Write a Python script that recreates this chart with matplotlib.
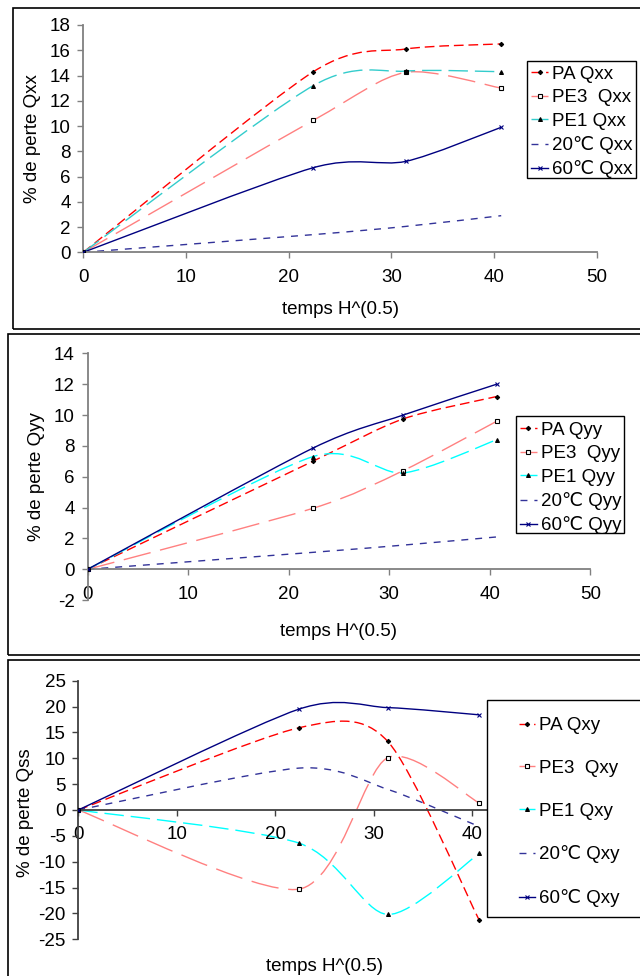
import matplotlib
matplotlib.use("Agg")
import matplotlib.pyplot as plt
from matplotlib.path import Path
from matplotlib.patches import PathPatch, Rectangle
from matplotlib.lines import Line2D

plt.rcParams['font.family'] = ['Liberation Sans', 'DejaVu Sans']
plt.rcParams['lines.scale_dashes'] = False
plt.rcParams['axes.unicode_minus'] = False

# temps H^(0.5)
t = [0, 22.4, 31.4, 40.7]

# % de perte Qxx
pa_qxx = [0, 14.3, 16.1, 16.5]
pe3_qxx = [0, 10.45, 14.25, 13.0]
pe1_qxx = [0, 13.2, 14.35, 14.3]
c20_qxx = [0, 1.4, 2.05, 2.9]
c60_qxx = [0, 6.7, 7.2, 9.9]
labels_qxx = ["PA Qxx", "PE3  Qxx", "PE1 Qxx", "20\u2103 Qxx", "60\u2103 Qxx"]

# % de perte Qyy
pa_qyy = [0, 7.0, 9.75, 11.2]
pe3_qyy = [0, 3.95, 6.4, 9.6]
pe1_qyy = [0, 7.3, 6.25, 8.4]
c20_qyy = [0, 1.1, 1.57, 2.1]
c60_qyy = [0, 7.85, 10.0, 12.0]
labels_qyy = ["PA Qyy", "PE3  Qyy", "PE1 Qyy", "20\u2103 Qyy", "60\u2103 Qyy"]

# % de perte Qss
pa_qxy = [0, 15.9, 13.3, -21.3]
pe3_qxy = [0, -15.3, 10.1, 1.35]
pe1_qxy = [0, -6.4, -20.2, -8.4]
c20_qxy = [0, 8.1, 4.0, -3.2]
c60_qxy = [0, 19.5, 19.8, 18.4]
labels_qxy = ["PA Qxy", "PE3  Qxy", "PE1 Qxy", "20\u2103 Qxy", "60\u2103 Qxy"]

W, H = 640, 976
FS = 13.5
TENSION = 1 / 7.5


def fig_rect(x0, y0, x1, y1):
    # pixel box (top-left origin) -> figure fraction rect
    return [x0 / W, 1 - y1 / H, (x1 - x0) / W, (y1 - y0) / H]


def smooth_path(x, y):
    # excel-like smoothed line: cubic bezier through the points
    pts = list(zip(x, y))
    n = len(pts)
    verts = [pts[0]]
    codes = [Path.MOVETO]
    for i in range(n - 1):
        p0 = pts[max(i - 1, 0)]
        p1 = pts[i]
        p2 = pts[i + 1]
        p3 = pts[min(i + 2, n - 1)]
        c1 = (p1[0] + (p2[0] - p0[0]) * TENSION, p1[1] + (p2[1] - p0[1]) * TENSION)
        c2 = (p2[0] - (p3[0] - p1[0]) * TENSION, p2[1] - (p3[1] - p1[1]) * TENSION)
        verts += [c1, c2, p2]
        codes += [Path.CURVE4] * 3
    return Path(verts, codes)


def styles(pe1_color):
    return [
        dict(color='#ff0000', ls=(0, (7, 3.5)), marker='D', ms=2.2, mfc='k', mec='k'),
        dict(color='#ff8080', ls=(0, (20, 7)), marker='s', ms=2.8, mfc='white', mec='k'),
        dict(color=pe1_color, ls=(0, (14, 5)), marker='^', ms=2.8, mfc='k', mec='k'),
        dict(color='#333399', ls=(0, (5, 5)), marker=None, ms=0, mfc='none', mec='none'),
        dict(color='#000080', ls='-', marker='x', ms=3.2, mfc='#000080', mec='#000080'),
    ]


def draw_panel(ax, series, pe1_color, spine_color):
    handles = []
    for y, st in zip(series, styles(pe1_color)):
        ax.add_patch(PathPatch(smooth_path(t, y), fill=False, edgecolor=st['color'],
                               lw=1.0, linestyle=st['ls'], capstyle='butt'))
        if st['marker']:
            ax.plot(t, y, ls='none', marker=st['marker'], ms=st['ms'],
                    mfc=st['mfc'], mec=st['mec'], mew=0.8, zorder=3)
        handles.append(Line2D([], [], color=st['color'], lw=1.0, ls=st['ls'],
                              marker=st['marker'], ms=st['ms'], mfc=st['mfc'],
                              mec=st['mec'], mew=0.8))
    for s in ['top', 'right']:
        ax.spines[s].set_visible(False)
    for s in ['left', 'bottom']:
        ax.spines[s].set_color(spine_color)
        ax.spines[s].set_linewidth(1.3)
    ax.tick_params(axis='both', direction='out', length=4.3, width=1.0,
                   color=spine_color, labelsize=FS)
    ax.tick_params(axis='x', pad=7.5)
    ax.tick_params(axis='y', pad=4.8)
    ax.set_xlim(0, 50)
    ax.set_xticks([0, 10, 20, 30, 40, 50])
    ax.set_xlabel("temps H^(0.5)", fontsize=FS)
    ax.patch.set_visible(False)
    return handles


def add_legend(fig, handles, labels, box, anchor, hl, tp, sp):
    fig.add_artist(Rectangle((box[0], box[1]), box[2], box[3], transform=fig.transFigure,
                             facecolor='white', edgecolor='black', lw=1.0, zorder=4))
    fig.legend(handles, labels, loc='center left', bbox_to_anchor=anchor, frameon=False,
               borderpad=0, borderaxespad=0, handlelength=hl, handletextpad=tp,
               labelspacing=sp, fontsize=FS, numpoints=1)


fig = plt.figure(figsize=(6.4, 9.76), dpi=100)

# panel frames
for r in [fig_rect(12.7, 8.3, 660, 329), fig_rect(8.3, 334, 660, 654.7),
          fig_rect(8.3, 660, 660, 990)]:
    fig.add_artist(Rectangle((r[0], r[1]), r[2], r[3], transform=fig.transFigure,
                             fill=False, edgecolor='black', lw=1.2))

# Qxx
ax1 = fig.add_axes(fig_rect(83.3, 25, 596.7, 252.3))
h1 = draw_panel(ax1, [pa_qxx, pe3_qxx, pe1_qxx, c20_qxx, c60_qxx], '#33cccc', '#808080')
ax1.set_ylim(0, 18)
ax1.set_yticks(range(0, 19, 2))
ax1.set_ylabel("% de perte Qxx", fontsize=FS, va='center')
ax1.yaxis.set_label_coords(-0.0986, 0.5)
ax1.xaxis.label.set_va('center')
ax1.xaxis.set_label_coords(0.5, (252.3 - 310) / 227.3)
add_legend(fig, h1, labels_qxx, fig_rect(526.7, 61, 635.5, 177.7),
           (530.7 / W, 1 - 122 / H), 0.94, 0.18, 0.34)

# Qyy
ax2 = fig.add_axes(fig_rect(87.5, 353.3, 590.3, 600.2))
h2 = draw_panel(ax2, [pa_qyy, pe3_qyy, pe1_qyy, c20_qyy, c60_qyy], '#00ffff', '#808080')
ax2.set_ylim(-2, 14)
ax2.set_yticks(range(-2, 15, 2))
ax2.spines['bottom'].set_position(('data', 0))
ax2.set_ylabel("% de perte Qyy", fontsize=FS, va='center')
ax2.yaxis.set_label_coords((36.7 - 87.5) / 502.8, 0.5)
ax2.xaxis.label.set_va('center')
ax2.xaxis.set_label_coords(0.5, (600.2 - 631.7) / 246.9)
add_legend(fig, h2, labels_qyy, fig_rect(515.7, 416, 623.5, 533.3),
           (520 / W, 1 - 478 / H), 0.89, 0.21, 0.34)

# Qxy
ax3 = fig.add_axes(fig_rect(78.3, 680.7, 570.8, 939.3))
h3 = draw_panel(ax3, [pa_qxy, pe3_qxy, pe1_qxy, c20_qxy, c60_qxy], '#00ffff', '#404040')
ax3.set_ylim(-25, 25)
ax3.set_yticks(range(-25, 26, 5))
ax3.spines['bottom'].set_position(('data', 0))
ax3.set_ylabel("% de perte Qss", fontsize=FS, va='center')
ax3.yaxis.set_label_coords((25.3 - 78.3) / 492.5, 0.49)
ax3.xaxis.label.set_va('center')
ax3.xaxis.set_label_coords(0.5, (939.3 - 966.7) / 258.6)
add_legend(fig, h3, labels_qxy, fig_rect(487.3, 700, 660, 917.3),
           (519.3 / W, 1 - 812 / H), 0.84, 0.23, 1.37)

fig.savefig("out.png", dpi=100)
